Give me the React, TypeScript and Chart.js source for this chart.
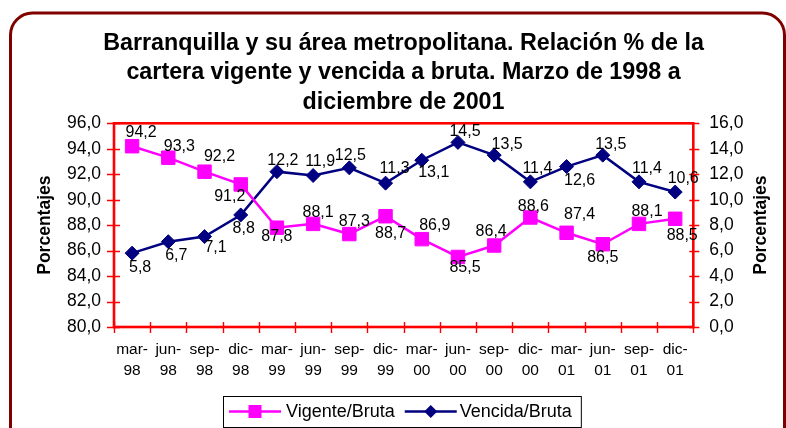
import { useEffect, useRef } from "react";
import { Chart, registerables } from "chart.js";

Chart.register(...registerables);

// ---------- DATA ----------
const categories: string[][] = [
  ["mar-", "98"], ["jun-", "98"], ["sep-", "98"], ["dic-", "98"],
  ["mar-", "99"], ["jun-", "99"], ["sep-", "99"], ["dic-", "99"],
  ["mar-", "00"], ["jun-", "00"], ["sep-", "00"], ["dic-", "00"],
  ["mar-", "01"], ["jun-", "01"], ["sep-", "01"], ["dic-", "01"],
];
const vigenteBruta = [94.2, 93.3, 92.2, 91.2, 87.8, 88.1, 87.3, 88.7, 86.9, 85.5, 86.4, 88.6, 87.4, 86.5, 88.1, 88.5];
const vencidaBruta = [5.8, 6.7, 7.1, 8.8, 12.2, 11.9, 12.5, 11.3, 13.1, 14.5, 13.5, 11.4, 12.6, 13.5, 11.4, 10.6];
const leftAxisRange = [80, 96];
const rightAxisRange = [0, 16];
const axisStep = 2;
const titleLines = [
  "Barranquilla y su área metropolitana. Relación % de la",
  "cartera vigente y vencida a bruta. Marzo de 1998 a",
  "diciembre de 2001",
];
const axisTitle = "Porcentajes";
const seriesNames = ["Vigente/Bruta", "Vencida/Bruta"];

// ---------- STYLE ----------
const FONT = "'Liberation Sans', Arial, Helvetica, sans-serif";
const MAGENTA = "#FF00FF";
const NAVY = "#000080";
const RED = "#FF0000";
// label offsets (dx, dy) relative to each point, as placed in the original
const vigenteLabelOffsets = [
  [9, -14], [11, -11], [15, -15], [-11, 12], [0, 9], [5, -11], [5, -12], [5, 17],
  [13, -14], [7, 11], [-3, -14], [3, -11], [13, -18], [0, 13], [8, -12], [7, 17],
];
const vencidaLabelOffsets = [
  [8, 14], [8, 14], [11, 11], [3, 14], [6, -11], [7, -14], [1, -12], [9, -15],
  [12, 12], [7, -11], [13, -11], [7, -13], [13, 14], [8, -11], [8, -13], [8, -13],
];

const fmt = (v: number) => v.toFixed(1).replace(".", ",");

const decorPlugin = {
  id: "decor",
  beforeDraw(chart: any) {
    const ctx = chart.ctx as CanvasRenderingContext2D;
    ctx.save();
    ctx.fillStyle = "#ffffff";
    ctx.fillRect(0, 0, chart.width, chart.height);
    ctx.strokeStyle = "#800000";
    ctx.lineWidth = 3;
    ctx.beginPath();
    (ctx as any).roundRect(10.5, 13, 774, 470, 22);
    ctx.stroke();
    // title
    ctx.fillStyle = "#000";
    ctx.font = `bold 23.3px ${FONT}`;
    ctx.textAlign = "center";
    ctx.textBaseline = "alphabetic";
    const baselines = [50, 79.3, 108.6];
    titleLines.forEach((t, i) => ctx.fillText(t, 403.5, baselines[i]));
    ctx.restore();
  },
  beforeDatasetsDraw(chart: any) {
    const ctx = chart.ctx as CanvasRenderingContext2D;
    const a = chart.chartArea;
    const yl = chart.scales.y;
    const yr = chart.scales.y2;
    ctx.save();
    ctx.strokeStyle = RED;
    ctx.lineWidth = 1.4;
    ctx.beginPath();
    yl.ticks.forEach((_t: any, i: number) => {
      const py = Math.round(yl.getPixelForTick(i)) + 0.5;
      ctx.moveTo(a.left - 7, py);
      ctx.lineTo(a.left + 6, py);
    });
    yr.ticks.forEach((_t: any, i: number) => {
      const py = Math.round(yr.getPixelForTick(i)) + 0.5;
      ctx.moveTo(a.right - 4, py);
      ctx.lineTo(a.right + 6, py);
    });
    const n = categories.length;
    for (let k = 0; k <= n; k++) {
      const px = Math.round(a.left + ((a.right - a.left) * k) / n) + 0.5;
      ctx.moveTo(px, a.bottom - 5);
      ctx.lineTo(px, a.bottom + 6);
    }
    ctx.stroke();
    ctx.lineWidth = 2.6;
    ctx.strokeRect(a.left, a.top, a.right - a.left, a.bottom - a.top);
    ctx.restore();
  },
  afterDatasetsDraw(chart: any) {
    const ctx = chart.ctx as CanvasRenderingContext2D;
    ctx.save();
    ctx.fillStyle = "#000";
    ctx.font = `16px ${FONT}`;
    ctx.textAlign = "center";
    ctx.textBaseline = "middle";
    const sets = [
      { idx: 0, vals: vigenteBruta, off: vigenteLabelOffsets },
      { idx: 1, vals: vencidaBruta, off: vencidaLabelOffsets },
    ];
    sets.forEach((s) => {
      const meta = chart.getDatasetMeta(s.idx);
      meta.data.forEach((pt: any, i: number) => {
        ctx.fillText(fmt(s.vals[i]), pt.x + s.off[i][0], pt.y + s.off[i][1]);
      });
    });
    ctx.restore();
  },
  afterDraw(chart: any) {
    const ctx = chart.ctx as CanvasRenderingContext2D;
    const a = chart.chartArea;
    const cy = (a.top + a.bottom) / 2;
    ctx.save();
    ctx.fillStyle = "#000";
    ctx.font = `bold 17.5px ${FONT}`;
    ctx.textAlign = "center";
    ctx.textBaseline = "middle";
    [45, 761].forEach((cx) => {
      ctx.save();
      ctx.translate(cx, cy);
      ctx.rotate(-Math.PI / 2);
      ctx.fillText(axisTitle, 0, 0);
      ctx.restore();
    });

    // legend
    ctx.font = `18px ${FONT}`;
    ctx.textAlign = "left";
    const boxL = 223;
    const boxT = 396;
    const boxH = 31;
    const ly = boxT + boxH / 2;
    const w1 = ctx.measureText(seriesNames[0]).width;
    const w2 = ctx.measureText(seriesNames[1]).width;
    const l1 = boxL + 6;
    const t1 = l1 + 57;
    const l2 = t1 + w1 + 10;
    const t2 = l2 + 55;
    const boxR = t2 + w2 + 9;
    ctx.lineWidth = 1;
    ctx.strokeStyle = "#000";
    ctx.strokeRect(boxL + 0.5, boxT + 0.5, boxR - boxL, boxH);

    ctx.strokeStyle = MAGENTA;
    ctx.lineWidth = 2.5;
    ctx.beginPath();
    ctx.moveTo(l1, ly);
    ctx.lineTo(l1 + 52, ly);
    ctx.stroke();
    ctx.fillStyle = MAGENTA;
    ctx.fillRect(l1 + 26 - 6.5, ly - 6.5, 13, 13);
    ctx.fillStyle = "#000";
    ctx.fillText(seriesNames[0], t1, ly + 1);

    ctx.strokeStyle = NAVY;
    ctx.beginPath();
    ctx.moveTo(l2, ly);
    ctx.lineTo(l2 + 52, ly);
    ctx.stroke();
    ctx.fillStyle = NAVY;
    const dx = l2 + 26;
    ctx.beginPath();
    ctx.moveTo(dx - 6.5, ly);
    ctx.lineTo(dx, ly - 6.5);
    ctx.lineTo(dx + 6.5, ly);
    ctx.lineTo(dx, ly + 6.5);
    ctx.closePath();
    ctx.fill();
    ctx.fillStyle = "#000";
    ctx.fillText(seriesNames[1], t2, ly + 1);
    ctx.restore();
  },
};

export default function App() {
  const ref = useRef<HTMLCanvasElement>(null);
  useEffect(() => {
    const chart = new Chart(ref.current as HTMLCanvasElement, {
      type: "line",
      data: {
        labels: categories,
        datasets: [
          {
            label: seriesNames[0],
            data: vigenteBruta,
            yAxisID: "y",
            borderColor: MAGENTA,
            backgroundColor: MAGENTA,
            borderWidth: 2.5,
            pointStyle: "rect",
            pointRadius: 9.5,
            pointBorderWidth: 1,
            pointBorderColor: MAGENTA,
            pointBackgroundColor: MAGENTA,
            tension: 0,
          },
          {
            label: seriesNames[1],
            data: vencidaBruta,
            yAxisID: "y2",
            borderColor: NAVY,
            backgroundColor: NAVY,
            borderWidth: 2.5,
            pointStyle: "rectRot",
            pointRadius: 7,
            pointBorderWidth: 1,
            pointBorderColor: NAVY,
            pointBackgroundColor: NAVY,
            tension: 0,
          },
        ],
      },
      options: {
        responsive: false,
        animation: false,
        layout: { padding: { top: 123.3, left: 0, right: 0, bottom: 47 } },
        plugins: {
          legend: { display: false },
          tooltip: { enabled: false },
          title: { display: false },
        },
        scales: {
          x: {
            type: "category",
            offset: true,
            grid: { display: false, drawTicks: false },
            border: { display: false },
            ticks: {
              autoSkip: false,
              maxRotation: 0,
              minRotation: 0,
              padding: 12.75,
              color: "#000",
              font: { family: FONT, size: 15.5, lineHeight: 20.5 / 15.5 },
            },
            afterFit(scale: any) {
              scale.height = 54;
            },
          },
          y: {
            position: "left",
            min: leftAxisRange[0],
            max: leftAxisRange[1],
            grid: { display: false, drawTicks: false },
            border: { display: false },
            ticks: {
              stepSize: axisStep,
              padding: 13,
              color: "#000",
              font: { family: FONT, size: 17.5 },
              callback: (v: any) => fmt(Number(v)),
            },
            afterFit(scale: any) {
              scale.width = 114;
            },
          },
          y2: {
            position: "right",
            min: rightAxisRange[0],
            max: rightAxisRange[1],
            grid: { display: false, drawTicks: false },
            border: { display: false },
            ticks: {
              stepSize: axisStep,
              padding: 16,
              color: "#000",
              font: { family: FONT, size: 17.5 },
              callback: (v: any) => fmt(Number(v)),
            },
            afterFit(scale: any) {
              scale.width = 92.7;
            },
          },
        },
      },
      plugins: [decorPlugin],
    } as any);
    return () => chart.destroy();
  }, []);
  return (
    <div style={{ position: "absolute", left: 0, top: 0, width: 786, height: 428, background: "#fff" }}>
      <canvas ref={ref} width={786} height={428} style={{ display: "block" }} />
    </div>
  );
}
